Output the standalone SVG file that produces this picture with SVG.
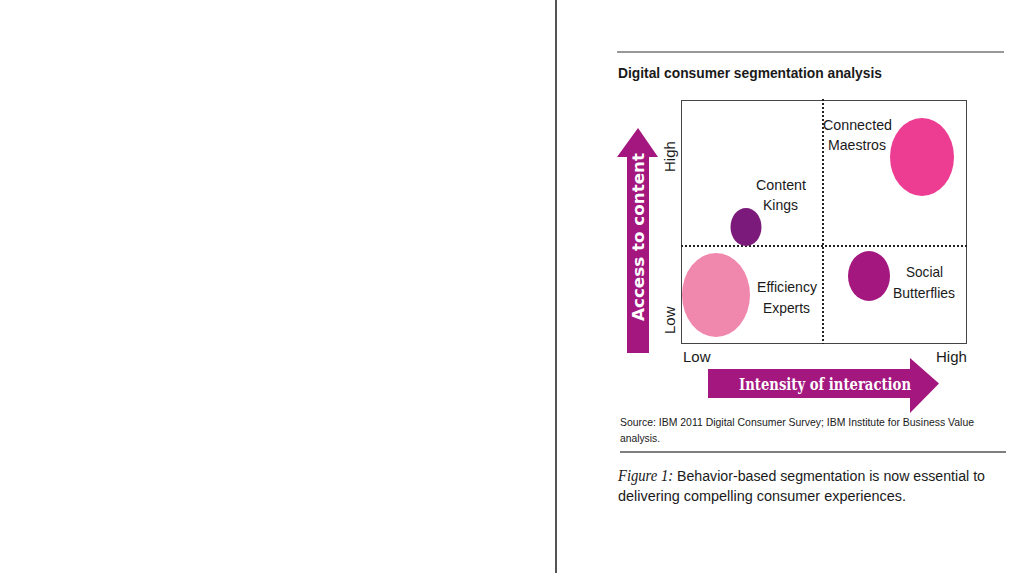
<svg xmlns="http://www.w3.org/2000/svg" width="1024" height="573" viewBox="0 0 1024 573">
<style>
.t{font-family:"Liberation Sans",Arial,sans-serif;fill:#1a1a1a}
.lbl{font-size:15px;text-anchor:middle}
.ax{font-size:15px}
.dot{stroke:#222;stroke-width:2;stroke-dasharray:2 2;fill:none}
.arr{fill:#A3177F}
</style>
<rect width="1024" height="573" fill="#fff"/>
<line x1="556" y1="0" x2="556" y2="573" stroke="#555" stroke-width="2"/>
<line x1="617" y1="52" x2="1004" y2="52" stroke="#333" stroke-width="1"/>
<text class="t" x="618" y="78" font-size="15" font-weight="bold" textLength="264" lengthAdjust="spacingAndGlyphs">Digital consumer segmentation analysis</text>
<g id="chart">
<rect x="681.5" y="100.5" width="285" height="243" fill="none" stroke="#444" stroke-width="1"/>
</g>
<g id="connectors">
<line class="dot" x1="823" y1="99" x2="823" y2="344"/>
<line class="dot" x1="681" y1="246" x2="968" y2="246"/>
</g>
<g id="connected-maestros">
<ellipse cx="922" cy="157" rx="32" ry="39" fill="#ED3D93"/>
<text class="t lbl" x="857.5" y="130" textLength="69" lengthAdjust="spacingAndGlyphs">Connected</text>
<text class="t lbl" x="857" y="150" textLength="58" lengthAdjust="spacingAndGlyphs">Maestros</text>
</g>
<g id="content-kings">
<ellipse cx="746" cy="227" rx="15.5" ry="19" fill="#7B1A7A"/>
<text class="t lbl" x="781" y="190" textLength="50" lengthAdjust="spacingAndGlyphs">Content</text>
<text class="t lbl" x="780.5" y="210" textLength="35" lengthAdjust="spacingAndGlyphs">Kings</text>
</g>
<g id="efficiency-experts">
<ellipse cx="716" cy="295" rx="34" ry="42" fill="#F087AC"/>
<text class="t lbl" x="787" y="292" textLength="60" lengthAdjust="spacingAndGlyphs">Efficiency</text>
<text class="t lbl" x="786.5" y="313" textLength="47" lengthAdjust="spacingAndGlyphs">Experts</text>
</g>
<g id="social-butterflies">
<ellipse cx="869" cy="276" rx="21" ry="25" fill="#A3177F"/>
<text class="t lbl" x="924.5" y="277" textLength="37" lengthAdjust="spacingAndGlyphs">Social</text>
<text class="t lbl" x="924" y="298" textLength="62" lengthAdjust="spacingAndGlyphs">Butterflies</text>
</g>
<g id="axis-labels">
<text class="t ax" transform="translate(675,172) rotate(-90)">High</text>
<text class="t ax" transform="translate(675,334) rotate(-90)">Low</text>
<text class="t ax" x="683" y="362">Low</text>
<text class="t ax" x="936" y="362">High</text>
</g>
<g id="y-arrow">
<polygon class="arr" points="627,353 649,353 649,157 658,157 638,128 617,157 627,157"/>
<text transform="translate(644,237) rotate(-90)" font-family="DejaVu Sans,sans-serif" font-size="16" font-weight="bold" fill="#fff" text-anchor="middle" textLength="168" lengthAdjust="spacingAndGlyphs">Access to content</text>
</g>
<g id="x-arrow">
<polygon class="arr" points="708,369 910,369 910,358 939,383.5 910,413 910,398 708,398"/>
<text x="825" y="390" font-family="DejaVu Serif,serif" font-size="16" font-weight="bold" fill="#fff" text-anchor="middle" textLength="172" lengthAdjust="spacingAndGlyphs">Intensity of interaction</text>
</g>
<text class="t" x="620" y="426" font-size="11.5" textLength="354" lengthAdjust="spacingAndGlyphs">Source: IBM 2011 Digital Consumer Survey; IBM Institute for Business Value</text>
<text class="t" x="620" y="442" font-size="11.5" textLength="40" lengthAdjust="spacingAndGlyphs">analysis.</text>
<line x1="620" y1="452" x2="1006" y2="452" stroke="#555" stroke-width="1.5"/>
<text class="t" x="618" y="481" font-size="15.5" textLength="367" lengthAdjust="spacingAndGlyphs"><tspan font-family="Liberation Serif,serif" font-style="italic" font-size="16">Figure 1:</tspan> Behavior-based segmentation is now essential to</text>
<text class="t" x="618" y="501" font-size="15.5" textLength="288" lengthAdjust="spacingAndGlyphs">delivering compelling consumer experiences.</text>
</svg>
